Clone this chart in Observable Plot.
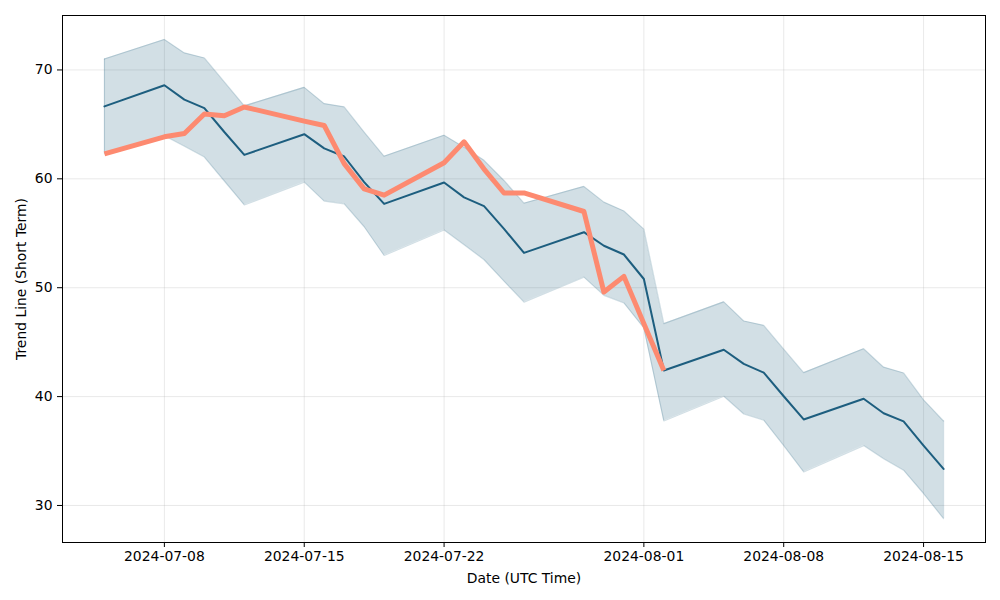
<!DOCTYPE html>
<html>
<head>
<meta charset="utf-8">
<script src="https://cdn.jsdelivr.net/npm/d3@7"></script>
<script src="https://cdn.jsdelivr.net/npm/@observablehq/plot@0.6"></script>
<style>
  html, body { margin: 0; padding: 0; background: white; }
  #chart { width: 1000px; height: 600px; }
</style>
</head>
<body>
<div id="chart"></div>
<script>
const dates = ["2024-07-05","2024-07-08","2024-07-09","2024-07-10","2024-07-11","2024-07-12",
  "2024-07-15","2024-07-16","2024-07-17","2024-07-18","2024-07-19",
  "2024-07-22","2024-07-23","2024-07-24","2024-07-25","2024-07-26",
  "2024-07-29","2024-07-30","2024-07-31","2024-08-01","2024-08-02",
  "2024-08-05","2024-08-06","2024-08-07","2024-08-08","2024-08-09",
  "2024-08-12","2024-08-13","2024-08-14","2024-08-15","2024-08-16"];
const trend = [66.65,68.6,67.27,66.5,64.3,62.2,
  64.1,62.8,62.05,59.7,57.7,
  59.66,58.3,57.5,55.4,53.2,
  55.1,53.85,53.05,50.8,42.4,
  44.3,43.0,42.2,40.03,37.9,
  39.8,38.47,37.73,35.5,33.36];
const upper = [71.0,72.8,71.56,71.1,68.9,66.7,
  68.4,66.9,66.6,64.3,62.07,
  64.0,62.9,61.7,59.85,57.76,
  59.3,57.86,57.05,55.38,46.7,
  48.7,46.94,46.54,44.35,42.2,
  44.4,42.7,42.17,39.7,37.76];
const lower = [62.3,63.95,63.0,62.0,59.8,57.6,
  59.7,57.95,57.7,55.6,52.96,
  55.3,53.95,52.57,50.6,48.68,
  50.97,49.3,48.6,46.3,37.76,
  40.03,38.4,37.83,35.5,33.08,
  35.5,34.3,33.24,31.1,28.8];
const price = [62.3,63.86,64.17,65.95,65.8,66.6,
  65.3,64.9,61.4,59.08,58.5,
  61.47,63.4,60.9,58.7,58.7,
  57.0,49.6,51.04,46.7,42.4];
const xTickDates = ["2024-07-08","2024-07-15","2024-07-22","2024-08-01","2024-08-08","2024-08-15"];
const yTickValues = [30, 40, 50, 60, 70];

const parse = d3.utcParse("%Y-%m-%d");
const band = dates.map((d, i) => ({date: parse(d), trend: trend[i], upper: upper[i], lower: lower[i]}));
const actual = price.map((v, i) => ({date: parse(dates[i]), value: v}));
const xTicks = xTickDates.map(parse);

const dark = "#1d5e7f";
const salmon = "#fd8a70";

const chart = Plot.plot({
  width: 1000,
  height: 600,
  marginLeft: 62,
  marginRight: 15,
  marginTop: 15,
  marginBottom: 58,
  style: {fontFamily: "DejaVu Sans", fontSize: "13.9px", color: "black", background: "white"},
  x: {type: "utc", domain: [new Date(Date.UTC(2024,6,2,21,36)), new Date(Date.UTC(2024,7,18,2,24))]},
  y: {domain: [26.6, 75.0]},
  marks: [
    Plot.gridX(xTicks, {stroke: "#b0b0b0", strokeOpacity: 0.35, strokeWidth: 0.8}),
    Plot.gridY(yTickValues, {stroke: "#b0b0b0", strokeOpacity: 0.35, strokeWidth: 0.8}),
    Plot.areaY(band, {x: "date", y1: "lower", y2: "upper", fill: dark, fillOpacity: 0.2, curve: "linear"}),
    Plot.lineY(band, {x: "date", y: "upper", stroke: dark, strokeOpacity: 0.2, strokeWidth: 1.2}),
    Plot.lineY(band, {x: "date", y: "lower", stroke: dark, strokeOpacity: 0.2, strokeWidth: 1.2}),
    Plot.ruleX([band[0]], {x: "date", y1: "lower", y2: "upper", stroke: dark, strokeOpacity: 0.2, strokeWidth: 1.2}),
    Plot.ruleX([band[band.length-1]], {x: "date", y1: "lower", y2: "upper", stroke: dark, strokeOpacity: 0.2, strokeWidth: 1.2}),
    Plot.lineY(band, {x: "date", y: "trend", stroke: dark, strokeWidth: 2}),
    Plot.lineY(actual, {x: "date", y: "value", stroke: salmon, strokeWidth: 5, strokeLinejoin: "round", strokeLinecap: "butt"}),
    Plot.frame({stroke: "black", strokeWidth: 1}),
    Plot.axisX(xTicks, {tickFormat: d3.utcFormat("%Y-%m-%d"), tickSize: 5, tickPadding: 4,
      label: "Date (UTC Time)", labelAnchor: "center", labelArrow: "none", labelOffset: 40}),
    Plot.axisY(yTickValues, {tickSize: 5, tickPadding: 5,
      label: "Trend Line (Short Term)", labelAnchor: "center", labelArrow: "none", labelOffset: 46})
  ]
});
document.getElementById("chart").appendChild(chart);
</script>
</body>
</html>
